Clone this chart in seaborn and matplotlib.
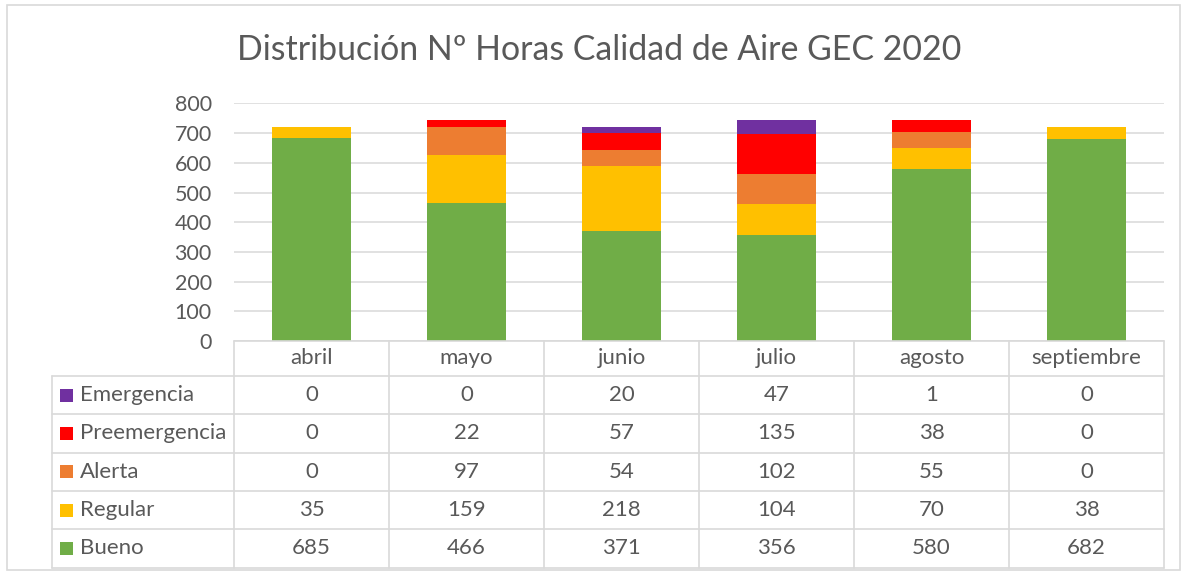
import pandas as pd
import matplotlib
matplotlib.use("Agg")
import matplotlib.pyplot as plt
from matplotlib.lines import Line2D
from matplotlib.patches import Rectangle
import seaborn as sns

meses = ['abril', 'mayo', 'junio', 'julio', 'agosto', 'septiembre']
niveles = ['Emergencia', 'Preemergencia', 'Alerta', 'Regular', 'Bueno']
emergencia = [0, 0, 20, 47, 1, 0]
preemergencia = [0, 22, 57, 135, 38, 0]
alerta = [0, 97, 54, 102, 55, 0]
regular = [35, 159, 218, 104, 70, 38]
bueno = [685, 466, 371, 356, 580, 682]
colores = ['#7030A0', '#FF0000', '#ED7D31', '#FFC000', '#70AD47']

series = [emergencia, preemergencia, alerta, regular, bueno]
rows = []
for nivel, vals in zip(niveles, series):
    for i, v in enumerate(vals):
        rows.append({'mes': i, 'nivel': nivel, 'horas': v})
df = pd.DataFrame(rows)

sns.set_style("white")
plt.rcParams['font.family'] = ['Lato', 'DejaVu Sans']
txt = '#595959'
grid = '#D9D9D9'

W, H = 1186, 575
fig = plt.figure(figsize=(W / 100, H / 100), dpi=100)

def fx(x):
    return x / W

def fy(y):
    return 1 - y / H

ax_left, ax_right, ax_top, ax_bot = 234, 1164, 103.5, 341
ax = fig.add_axes([fx(ax_left), fy(ax_bot), fx(ax_right - ax_left), (ax_bot - ax_top) / H])

# stacked bars: first hue level ends on top, last (Bueno) at the bottom
sns.histplot(data=df, x='mes', weights='horas', hue='nivel', hue_order=niveles,
             multiple='stack', discrete=True, shrink=0.51, palette=colores,
             alpha=1, linewidth=0, legend=False, ax=ax)

ax.set_xlim(-0.5, len(meses) - 0.5)
ax.set_ylim(0, 800)
ax.set_yticks(range(0, 801, 100))
ax.yaxis.grid(True, color=grid, lw=1.1)
ax.set_axisbelow(True)
ax.set_xticks([])
ax.set_xlabel('')
ax.set_ylabel('')
ax.tick_params(axis='y', length=0, pad=16, labelsize=15.5, labelcolor=txt)
for s in ax.spines.values():
    s.set_visible(False)

# title
fig.text(fx(599), fy(50), 'Distribución Nº Horas Calidad de Aire GEC 2020',
         ha='center', va='center', fontsize=24.4, color=txt)

# outer chart border
fig.add_artist(Rectangle((fx(7), fy(570)), fx(1173), (570 - 5) / H,
                         transform=fig.transFigure, fill=False, ec=grid, lw=1.2))

# data table
col_x = [234 + 155 * i for i in range(len(meses) + 1)]
row_y = [341, 376, 414.3, 452.6, 490.9, 529.2, 567.5]
lab_left = 52

def hline(x0, x1, y):
    fig.add_artist(Line2D([fx(x0), fx(x1)], [fy(y), fy(y)], transform=fig.transFigure,
                          color=grid, lw=1.2))

def vline(x, y0, y1):
    fig.add_artist(Line2D([fx(x), fx(x)], [fy(y0), fy(y1)], transform=fig.transFigure,
                          color=grid, lw=1.2))

hline(col_x[0], col_x[-1], row_y[0])
for y in row_y[1:]:
    hline(lab_left, col_x[-1], y)
for x in col_x:
    vline(x, row_y[0], row_y[-1])
vline(lab_left, row_y[1], row_y[-1])

fs = 16
for i, mes in enumerate(meses):
    xc = (col_x[i] + col_x[i + 1]) / 2
    fig.text(fx(xc), fy((row_y[0] + row_y[1]) / 2), mes, ha='center', va='center',
             fontsize=fs, color=txt)

for r, (nivel, vals, c) in enumerate(zip(niveles, series, colores)):
    yc = (row_y[r + 1] + row_y[r + 2]) / 2
    fig.add_artist(Rectangle((fx(60), fy(yc + 6.5)), fx(13), 13 / H,
                             transform=fig.transFigure, fc=c, ec='none'))
    fig.text(fx(80), fy(yc), nivel, ha='left', va='center', fontsize=fs, color=txt)
    for i, v in enumerate(vals):
        xc = (col_x[i] + col_x[i + 1]) / 2
        fig.text(fx(xc), fy(yc), str(v), ha='center', va='center', fontsize=fs, color=txt)

fig.savefig('out.png', dpi=100)
